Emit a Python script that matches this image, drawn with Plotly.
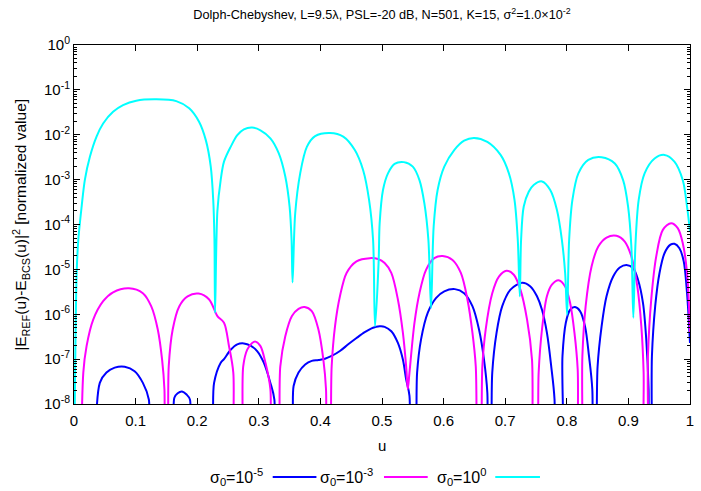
import numpy as np
import plotly.graph_objects as go

# ---------------- data (log10 of the value) ----------------
cyan_u = [0.0, 0.0043, 0.0070, 0.0124, 0.0177, 0.0258, 0.0366, 0.0473, 0.0634, 0.0796, 0.101, 0.134,
          0.166, 0.187, 0.203, 0.214, 0.222, 0.226, 0.228, 0.229,
          0.2328, 0.2382, 0.2435, 0.2543, 0.2651, 0.2758, 0.2892, 0.3027, 0.3188, 0.3323, 0.343, 0.350,
          0.3532, 0.3548,
          0.3591, 0.3672, 0.3780, 0.3914, 0.4156, 0.4371, 0.4559, 0.4694, 0.479, 0.4855, 0.4887,
          0.4946, 0.4962, 0.5016, 0.5097, 0.5204, 0.5355, 0.550, 0.5608, 0.5688, 0.5753, 0.5796,
          0.5839, 0.5903, 0.6011, 0.6172, 0.6333, 0.6495, 0.671, 0.6925, 0.706, 0.7151, 0.7204, 0.7237,
          0.7258, 0.7301, 0.7382, 0.7462, 0.7597, 0.7731, 0.7839, 0.792, 0.7973, 0.8005,
          0.8038, 0.8091, 0.8188, 0.8349, 0.8565, 0.878, 0.8914, 0.8995, 0.9048, 0.908,
          0.9113, 0.9167, 0.9263, 0.9425, 0.9586, 0.9747, 0.9882, 0.9952, 1.0]
cyan_log10 = [-10, -5.08, -4.34, -3.6, -3.0, -2.49, -2.04, -1.75, -1.49, -1.34, -1.24, -1.21,
              -1.25, -1.41, -1.71, -2.12, -2.71, -3.45, -4.34, -5.97,
              -3.7, -3.0, -2.6, -2.27, -2.01, -1.88, -1.84, -1.9, -2.08, -2.41, -2.93, -3.6,
              -4.34, -5.29,
              -3.75, -2.86, -2.27, -2.03, -1.96, -2.04, -2.34, -2.79, -3.45, -4.34, -6.27,
              -4.8, -3.97, -3.23, -2.86, -2.65, -2.61, -2.71, -3.01, -3.53, -4.34, -5.86,
              -4.04, -3.23, -2.71, -2.34, -2.13, -2.07, -2.16, -2.45, -2.86, -3.45, -4.34, -5.6,
              -4.34, -3.6, -3.27, -3.12, -3.04, -3.23, -3.67, -4.34, -5.08, -6.01,
              -4.34, -3.45, -2.86, -2.56, -2.5, -2.64, -3.01, -3.6, -4.49, -6.08,
              -4.49, -3.45, -2.86, -2.53, -2.45, -2.6, -3.01, -3.6, -4.16]

magenta_u = [0.0113, 0.0151, 0.0204, 0.0312, 0.0473, 0.0634, 0.0892, 0.1118, 0.1253, 0.136, 0.143, 0.1468, 0.1489,
             0.1505, 0.1538, 0.1602, 0.171, 0.1844, 0.2022, 0.2194, 0.2328, 0.2435, 0.2516, 0.2586, 0.2624,
             0.2694, 0.2747, 0.2812, 0.2892, 0.2946, 0.3027, 0.3108, 0.3188, 0.3215,
             0.3285, 0.3349, 0.343, 0.3538, 0.3645, 0.3742, 0.386, 0.3968, 0.4048, 0.4091, 0.4113,
             0.4134, 0.4183, 0.4237, 0.4317, 0.4425, 0.4586, 0.4801, 0.4935, 0.5043, 0.5151, 0.5258,
             0.5339, 0.5392, 0.5419,
             0.5446, 0.5527, 0.5608, 0.5715, 0.5849, 0.5984, 0.6145, 0.628, 0.6387, 0.6468, 0.6522, 0.657,
             0.6586, 0.6629, 0.6683, 0.679, 0.6898, 0.7022, 0.714, 0.7247, 0.7355, 0.7435, 0.7473,
             0.750, 0.7543, 0.7597, 0.7677, 0.7758, 0.7866, 0.7973, 0.8054, 0.8124, 0.8177, 0.8204,
             0.8226, 0.8253, 0.8306, 0.8403, 0.8511, 0.8645, 0.8806, 0.8941, 0.9048, 0.9145, 0.921, 0.9247, 0.9263,
             0.929, 0.9317, 0.9371, 0.9452, 0.9559, 0.9694, 0.9801, 0.9882, 0.9952, 1.0]
magenta_log10 = [-10, -7.3, -6.71, -6.12, -5.71, -5.51, -5.42, -5.53, -5.82, -6.34, -7.01, -7.67, -10,
                 -10, -7.16, -6.34, -5.82, -5.6, -5.54, -5.67, -6.04, -6.19, -6.71, -7.3, -10,
                 -10, -7.16, -6.79, -6.64, -6.61, -6.71, -7.08, -7.67, -10,
                 -10, -7.16, -6.49, -6.04, -5.88, -5.84, -5.93, -6.34, -7.01, -7.67, -10,
                 -10, -7.16, -6.27, -5.6, -5.08, -4.82, -4.75, -4.77, -4.86, -5.08, -5.67,
                 -6.41, -7.16, -7.67,
                 -7.3, -6.19, -5.53, -5.01, -4.75, -4.7, -4.79, -5.08, -5.67, -6.41, -7.16, -10,
                 -10, -7.16, -6.34, -5.53, -5.16, -5.03, -5.12, -5.45, -6.12, -7.01, -10,
                 -10, -7.3, -6.34, -5.6, -5.34, -5.24, -5.38, -5.75, -6.41, -7.23, -10,
                 -10, -6.93, -5.82, -4.93, -4.49, -4.29, -4.25, -4.38, -4.71, -5.38, -6.27, -7.3, -10,
                 -10, -6.93, -5.67, -4.71, -4.12, -3.97, -4.08, -4.41, -5.08, -6.41]

blue_u = [0.0344, 0.0419, 0.0527, 0.0661, 0.0823, 0.0984, 0.1118, 0.1215, 0.1242,
          0.1565, 0.1629, 0.1683, 0.1753, 0.1828, 0.1882, 0.1914,
          0.2183, 0.2274, 0.2382, 0.2435, 0.2543, 0.2651, 0.2758, 0.2866, 0.2973, 0.3081, 0.3188, 0.3253, 0.3274,
          0.350, 0.3565, 0.3645, 0.3753, 0.386, 0.3968, 0.4075, 0.4183, 0.4317, 0.4452, 0.4586, 0.472, 0.4855,
          0.4962, 0.5043, 0.5151, 0.5258, 0.5339, 0.5392, 0.5446, 0.5473,
          0.5516, 0.557, 0.5634, 0.5742, 0.5876, 0.6011, 0.6183, 0.6333, 0.6468, 0.6575, 0.6656, 0.671, 0.6726,
          0.6747, 0.679, 0.686, 0.6952, 0.7086, 0.7274, 0.7409, 0.7516, 0.7597, 0.7677, 0.7747, 0.7801, 0.7812,
          0.7898, 0.793, 0.7984, 0.8054, 0.8134, 0.8215, 0.8296, 0.836, 0.8414, 0.8435,
          0.8452, 0.850, 0.8565, 0.8645, 0.8753, 0.886, 0.8968, 0.9075, 0.9156, 0.9237, 0.929, 0.9328, 0.9339,
          0.9355, 0.9382, 0.9435, 0.9505, 0.9586, 0.9683, 0.9747, 0.9828, 0.9898, 0.9952, 1.0]
blue_log10 = [-10, -7.53, -7.3, -7.19, -7.17, -7.27, -7.53, -7.9, -10,
              -10, -7.86, -7.76, -7.72, -7.79, -7.9, -10,
              -10, -7.53, -7.08, -7.0, -6.79, -6.67, -6.65, -6.7, -6.82, -7.08, -7.53, -7.9, -10,
              -10, -7.6, -7.3, -7.12, -7.04, -7.02, -6.99, -6.93, -6.82, -6.67, -6.53, -6.4, -6.3,
              -6.27, -6.28, -6.38, -6.64, -7.01, -7.45, -7.82, -10,
              -10, -7.3, -6.56, -5.97, -5.64, -5.49, -5.44, -5.53, -5.82, -6.34, -7.01, -7.75, -10,
              -10, -7.3, -6.41, -5.82, -5.45, -5.3, -5.38, -5.6, -5.9, -6.41, -7.16, -7.9, -10,
              -10, -6.93, -6.19, -5.9, -5.84, -5.93, -6.27, -6.93, -7.67, -10,
              -10, -7.16, -6.27, -5.6, -5.16, -4.96, -4.9, -4.97, -5.23, -5.75, -6.56, -7.67, -10,
              -10, -6.93, -5.82, -5.08, -4.64, -4.45, -4.43, -4.53, -4.82, -5.53, -6.64]

series_names = ["σ<sub>0</sub>=10<sup>-5</sup>", "σ<sub>0</sub>=10<sup>-3</sup>", "σ<sub>0</sub>=10<sup>0</sup>"]
series_colors = ["#0000ff", "#ff00ff", "#00ffff"]

y_tick_vals = [1e-8, 1e-7, 1e-6, 1e-5, 1e-4, 1e-3, 1e-2, 1e-1, 1e0]
y_tick_text = ["10<sup>-8</sup>", "10<sup>-7</sup>", "10<sup>-6</sup>", "10<sup>-5</sup>",
               "10<sup>-4</sup>", "10<sup>-3</sup>", "10<sup>-2</sup>", "10<sup>-1</sup>", "10<sup>0</sup>"]
x_tick_vals = [0, 0.1, 0.2, 0.3, 0.4, 0.5, 0.6, 0.7, 0.8, 0.9, 1]
x_tick_text = ["0", "0.1", "0.2", "0.3", "0.4", "0.5", "0.6", "0.7", "0.8", "0.9", "1"]

title_text = "Dolph-Chebyshev, L=9.5λ, PSL=-20 dB, N=501, K=15, σ<sup>2</sup>=1.0×10<sup>-2</sup>"
y_title = "|E<sub>REF</sub>(u)-E<sub>BCS</sub>(u)|<sup>2</sup> [normalized value]"

FONT = "Liberation Sans, Arial, Helvetica, sans-serif"

fig = go.Figure()
all_u = [blue_u, magenta_u, cyan_u]
all_l = [blue_log10, magenta_log10, cyan_log10]
for u, l, name, col in zip(all_u, all_l, series_names, series_colors):
    fig.add_trace(go.Scatter(x=u, y=np.power(10.0, np.array(l)), mode="lines", name=name,
                             line=dict(color=col, width=2, shape="spline", smoothing=0.9),
                             showlegend=False, cliponaxis=True))

minor_vals = [k * 10.0 ** e for e in range(-8, 0) for k in range(2, 10)]

fig.update_layout(
    width=701, height=491,
    margin=dict(l=74, r=7, t=44.5, b=87),
    paper_bgcolor="white", plot_bgcolor="white",
    font=dict(family=FONT, size=15, color="black"),
    title=dict(text=title_text, x=0.5, xref="paper", xanchor="center", y=1 - 15 / 491, yanchor="middle",
               font=dict(size=12.7)),
)
fig.update_xaxes(range=[0, 1], tickmode="array", tickvals=x_tick_vals, ticktext=x_tick_text,
                 ticks="inside", ticklen=6, tickcolor="black", showline=True, linecolor="black", linewidth=1,
                 mirror="ticks", showgrid=False, zeroline=False, tickfont=dict(size=15),
                 ticklabelstandoff=3)
fig.update_yaxes(type="log", range=[-8, 0], tickmode="array", tickvals=y_tick_vals, ticktext=y_tick_text,
                 ticks="inside", ticklen=6, tickcolor="black", showline=True, linecolor="black", linewidth=1,
                 mirror="ticks", showgrid=False, zeroline=False, tickfont=dict(size=15),
                 minor=dict(tickmode="array", tickvals=minor_vals, ticks="inside", ticklen=3,
                            tickcolor="black", showgrid=False))

# axis titles
fig.add_annotation(text=y_title, xref="paper", yref="paper", x=(20 - 74) / 620, y=0.5, textangle=-90,
                   showarrow=False, xanchor="center", yanchor="middle", font=dict(size=15.5))
fig.add_annotation(text="u", xref="paper", yref="paper", x=0.5, y=(404 - 446) / 359.5,
                   showarrow=False, xanchor="center", yanchor="middle", font=dict(size=15))

# gnuplot-style legend: text then line sample
legend_text_right = [266, 377, 491]
legend_line = [(274, 318), (386, 430), (498, 543)]
leg_y = (404 - 477) / 359.5
for name, col, tr, (x0, x1) in zip(series_names, series_colors, legend_text_right, legend_line):
    fig.add_annotation(text=name, xref="paper", yref="paper", x=(tr - 74) / 620, y=leg_y,
                       showarrow=False, xanchor="right", yanchor="middle", font=dict(size=16))
    fig.add_shape(type="line", xref="paper", yref="paper", x0=(x0 - 74) / 620, x1=(x1 - 74) / 620,
                  y0=leg_y, y1=leg_y, line=dict(color=col, width=2))

fig.write_html("out.html")
